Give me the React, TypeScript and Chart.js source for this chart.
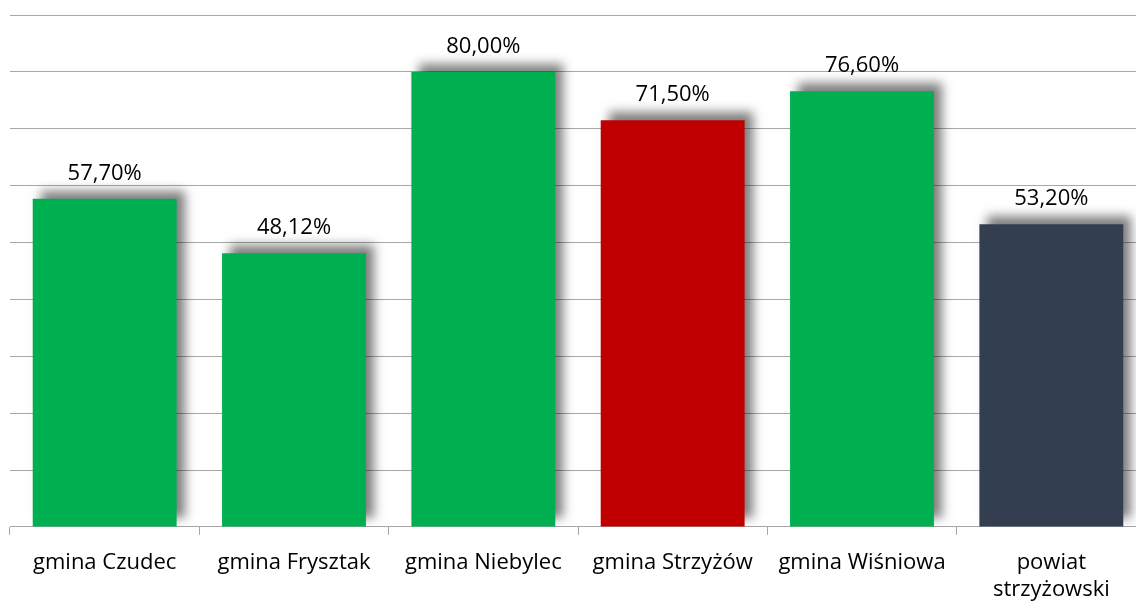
import React, { useEffect, useRef } from "react";
import { Chart, registerables } from "chart.js";

Chart.register(...registerables);

const categories: (string | string[])[] = [
  "gmina Czudec",
  "gmina Frysztak",
  "gmina Niebylec",
  "gmina Strzyżów",
  "gmina Wiśniowa",
  ["powiat", "strzyżowski"],
];
const values = [57.7, 48.12, 80.0, 71.5, 76.6, 53.2];
const barColors = ["#00B050", "#00B050", "#00B050", "#C00000", "#00B050", "#333F50"];
const yMax = 90;
const yStep = 10;

const FONT = "'Open Sans', sans-serif";

const shadowPlugin = {
  id: "barShadow",
  beforeDatasetDraw(chart: any) {
    const ctx = chart.ctx;
    ctx.save();
    ctx.shadowColor = "rgba(0,0,0,0.5)";
    ctx.shadowBlur = 10;
    ctx.shadowOffsetX = 8;
    ctx.shadowOffsetY = -8;
  },
  afterDatasetDraw(chart: any) {
    chart.ctx.restore();
  },
};

const labelPlugin = {
  id: "valueLabels",
  afterDatasetsDraw(chart: any) {
    const ctx = chart.ctx;
    const meta = chart.getDatasetMeta(0);
    ctx.save();
    ctx.font = `22px ${FONT}`;
    ctx.fillStyle = "#000";
    ctx.textAlign = "center";
    ctx.textBaseline = "alphabetic";
    meta.data.forEach((bar: any, i: number) => {
      const txt = values[i].toFixed(2).replace(".", ",") + "%";
      ctx.fillText(txt, bar.x, bar.y - 19);
    });
    ctx.restore();
  },
};

export default function App() {
  const ref = useRef<HTMLCanvasElement>(null);
  useEffect(() => {
    if (!ref.current) return;
    const chart = new Chart(ref.current, {
      type: "bar",
      data: {
        labels: categories,
        datasets: [
          {
            data: values,
            backgroundColor: barColors,
            borderWidth: 0,
            barPercentage: 0.76,
            categoryPercentage: 1,
          },
        ],
      },
      plugins: [shadowPlugin, labelPlugin],
      options: {
        animation: false,
        responsive: false,
        maintainAspectRatio: false,
        layout: { padding: { left: 10, right: 4, top: 15, bottom: 0 } },
        plugins: { legend: { display: false }, tooltip: { enabled: false } },
        scales: {
          x: {
            offset: true,
            grid: {
              display: true,
              drawOnChartArea: false,
              drawTicks: true,
              tickLength: 8,
              color: "#a6a6a6",
              offset: true,
            },
            border: { display: true, color: "#a6a6a6", width: 1 },
            ticks: {
              color: "#000",
              font: { family: FONT, size: 22, lineHeight: 1.23 },
              padding: 14,
              maxRotation: 0,
              autoSkip: false,
            },
          },
          y: {
            min: 0,
            max: yMax,
            ticks: { display: false, stepSize: yStep },
            grid: { color: "#a8a8a8", lineWidth: 1, drawTicks: false },
            border: { display: false },
          },
        },
      },
    });
    return () => chart.destroy();
  }, []);
  return (
    <div style={{ position: "fixed", left: 0, top: 0, width: 1136, height: 603, overflow: "hidden", background: "#fff" }}>
      <canvas ref={ref} width={1150} height={617} style={{ display: "block" }} />
    </div>
  );
}
